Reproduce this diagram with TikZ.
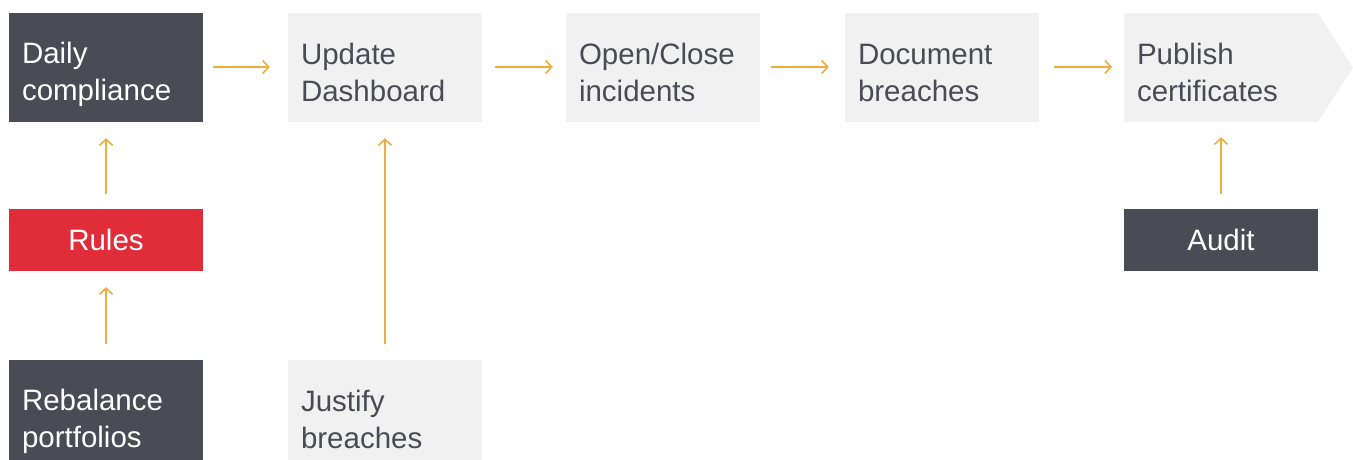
\documentclass[tikz,border=0pt]{standalone}
\usepackage{fontspec}
\setmainfont{Liberation Sans}
\usetikzlibrary{arrows.meta}
\definecolor{darkbox}{HTML}{4A4B55}
\definecolor{lightbox}{HTML}{F1F1F1}
\definecolor{redbox}{HTML}{E12D39}
\definecolor{arrowc}{HTML}{F0AD3C}
\newcommand{\twolines}[2]{\rule{0pt}{36pt}#1\\#2\rule[-6pt]{0pt}{6pt}}
\tikzset{
  base/.style={rectangle, inner sep=0pt, minimum width=194pt, font=\fontsize{29.5}{37}\selectfont},
  tall/.style={base, minimum height=109pt, text width=168pt, align=left},
  short/.style={base, minimum height=62pt, align=center},
  dark/.style={fill=darkbox, text=white},
  light/.style={fill=lightbox, text=darkbox},
  red/.style={fill=redbox, text=white},
  conn/.style={draw=arrowc, line width=2pt, -{Straight Barb[length=6pt,width=13pt,line width=1.6pt]}},
}
\begin{document}
\begin{tikzpicture}[x=1pt,y=-1pt]
\useasboundingbox (0,0) rectangle (1353,459);
\clip (0,0) rectangle (1353,459);
\node[tall,dark]  (daily) at (106,67.5) {\twolines{Daily}{compliance}};
\node[tall,light] (update) at (385,67.5) {\twolines{Update}{Dashboard}};
\node[tall,light] (open) at (663,67.5) {\twolines{Open/Close}{incidents}};
\node[tall,light] (doc) at (942,67.5) {\twolines{Document}{breaches}};
\fill[lightbox] (1124,13) -- (1318,13) -- (1353,67.5) -- (1318,122) -- (1124,122) -- cycle;
\node[tall,text=darkbox] (pub) at (1221,67.5) {\twolines{Publish}{certificates}};
\node[short,red]  (rules) at (106,240) {Rules};
\node[short,dark] (audit) at (1221,240) {Audit};
\node[tall,dark]  (reb) at (106,414.5) {\twolines{Rebalance}{portfolios}};
\node[tall,light] (just) at (385,414.5) {\twolines{Justify}{breaches}};
\coordinate (pubin) at (1124,67.5);
\draw[conn] ([xshift=10pt,yshift=0.5pt]daily.east) -- ([xshift=-18pt,yshift=0.5pt]update.west);
\draw[conn] ([xshift=13pt,yshift=0.5pt]update.east) -- ([xshift=-13pt,yshift=0.5pt]open.west);
\draw[conn] ([xshift=11pt,yshift=0.5pt]open.east) -- ([xshift=-16pt,yshift=0.5pt]doc.west);
\draw[conn] ([xshift=15pt,yshift=0.5pt]doc.east) -- ([xshift=-12pt,yshift=0.5pt]pubin);
\draw[conn] ([yshift=15pt]rules.north) -- ([yshift=-16pt]daily.south);
\draw[conn] ([yshift=16pt]reb.north) -- ([yshift=-16pt]rules.south);
\draw[conn] ([yshift=16pt]just.north) -- ([yshift=-16pt]update.south);
\draw[conn] ([yshift=15pt]audit.north) -- ([yshift=-15pt]pub.south);
\end{tikzpicture}
\end{document}
